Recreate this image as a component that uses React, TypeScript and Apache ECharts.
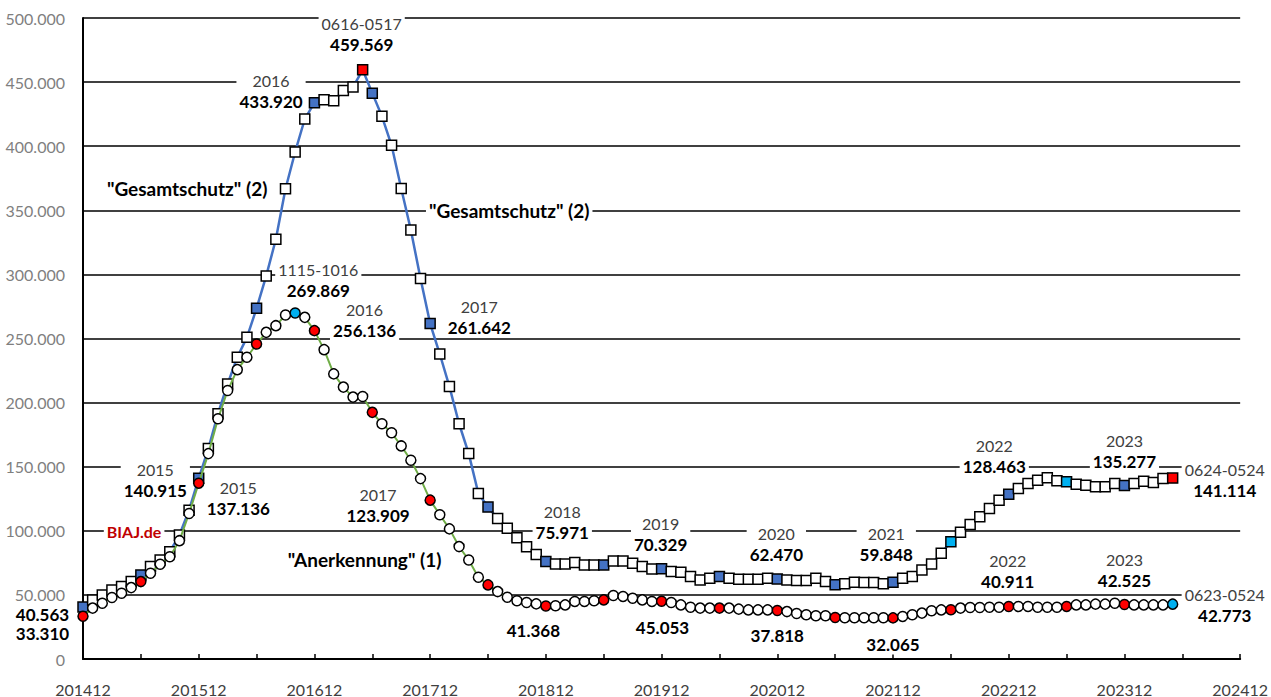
import React, { useEffect, useRef } from "react";
import * as echarts from "echarts";

// ---- categories (months 201412 .. 202412) ----
const START_YEAR = 2014;
const MONTHS: string[] = ["201412"];
for (let y = START_YEAR + 1; y <= 2024; y++) {
  for (let m = 1; m <= 12; m++) MONTHS.push(`${y}${m < 10 ? "0" + m : m}`);
}

// ---- series values ----
const gesamtschutz: number[] = [
  40563, 46100, 50000, 53900, 56500, 60400, 65600, 72100, 77200, 83700, 96700, 116100,
  140915, 164100, 191300, 214600, 235400, 250900, 273500, 298800, 327400, 366800, 395500, 421200,
  433920, 436200, 435400, 443500, 446100, 459569, 441400, 423300, 400700, 367000, 334600, 296800,
  261642, 237900, 212500, 183500, 160200, 129100, 118500, 109600, 101900, 94600, 87600, 81600,
  75971, 74100, 74100, 75200, 73300, 73300, 73300, 76400, 76400, 74600, 72100, 70200,
  70329, 68200, 67700, 64300, 61700, 63000, 64300, 63000, 62200, 62200, 62200, 63000,
  62470, 61700, 61200, 61200, 63000, 60400, 58000, 58600, 59900, 59600, 59600, 58600,
  59848, 63000, 64300, 69500, 74100, 82400, 91500, 98800, 105000, 110900, 117400, 123900,
  128463, 133000, 136900, 139400, 141300, 139000, 138200, 136300, 135500, 134300, 134300, 136900,
  135277, 136900, 138700, 137600, 140700, 141114,
];

const anerkennung: number[] = [
  33310, 39700, 43500, 48000, 51300, 55700, 60400, 66900, 73900, 79800, 92300, 113500,
  137136, 160200, 187400, 209400, 225700, 235400, 245700, 254800, 260000, 268300, 269869, 266500,
  256136, 241300, 222400, 212100, 204300, 204800, 192400, 183500, 176500, 166200, 155000, 140700,
  123909, 112500, 101500, 87700, 77200, 63800, 57800, 52600, 48200, 45400, 44100, 43000,
  41368, 41500, 42200, 44900, 44900, 45400, 46100, 49500, 48800, 47400, 46100, 44900,
  45053, 44100, 42200, 40400, 39700, 39700, 39700, 39700, 38900, 38300, 38300, 38300,
  37818, 37000, 35500, 34500, 33700, 33700, 32400, 32200, 32200, 32200, 32200, 32200,
  32065, 33200, 34500, 35800, 37600, 38300, 38400, 39700, 40200, 40200, 40400, 40400,
  40911, 41000, 41000, 40400, 40400, 40400, 41000, 42200, 42200, 42800, 42800, 43500,
  42525, 42200, 42200, 42200, 42200, 42773,
];

// ---- highlighted markers (indices into the monthly series) ----
const gesamtDarkBlueIdx = [0, 6, 12, 18, 24, 30, 36, 42, 48, 54, 60, 66, 72, 78, 84, 96, 108];
const gesamtLightBlueIdx = [90, 102];
const gesamtRedIdx = [29, 113];
const anerkRedIdx = [0, 6, 12, 18, 24, 30, 36, 42, 48, 54, 60, 66, 72, 78, 84, 90, 96, 102, 108];
const anerkLightBlueIdx = [22, 113];

// ---- annotations: x (month index), y (value), texts ----
type Note = { x: number; y: number; reg?: string; bold?: string; red?: string; title?: string; stack?: string };
const notes: Note[] = [
  { x: 28.9, y: 487500, reg: "0616-0517", bold: "459.569" },
  { x: 19.5, y: 442800, reg: "2016", bold: "433.920" },
  { x: 10.8, y: 367000, title: '"Gesamtschutz" (2)' },
  { x: 44.2, y: 349900, title: '"Gesamtschutz" (2)' },
  { x: 24.4, y: 295900, reg: "1115-1016", bold: "269.869" },
  { x: 29.2, y: 264400, reg: "2016", bold: "256.136" },
  { x: 41.1, y: 266700, reg: "2017", bold: "261.642" },
  { x: 7.5, y: 140000, reg: "2015", bold: "140.915" },
  { x: 16.1, y: 125200, reg: "2015", bold: "137.136" },
  { x: 5.3, y: 99500, red: "BIAJ.de" },
  { x: 30.6, y: 120500, reg: "2017", bold: "123.909" },
  { x: 29.2, y: 77800, title: '"Anerkennung" (1)' },
  { x: -4.2, y: 27200, stack: "40.563\n33.310" },
  { x: 49.7, y: 106500, reg: "2018", bold: "75.971" },
  { x: 59.9, y: 97200, reg: "2019", bold: "70.329" },
  { x: 71.9, y: 89400, reg: "2020", bold: "62.470" },
  { x: 83.3, y: 89400, reg: "2021", bold: "59.848" },
  { x: 94.5, y: 158600, reg: "2022", bold: "128.463" },
  { x: 108.0, y: 162100, reg: "2023", bold: "135.277" },
  { x: 118.4, y: 140000, reg: "0624-0524", bold: "141.114" },
  { x: 95.9, y: 68400, reg: "2022", bold: "40.911" },
  { x: 108.0, y: 69600, reg: "2023", bold: "42.525" },
  { x: 118.4, y: 42000, reg: "0623-0524", bold: "42.773" },
  { x: 46.7, y: 22000, bold: "41.368" },
  { x: 60.1, y: 24900, bold: "45.053" },
  { x: 72.0, y: 18100, bold: "37.818" },
  { x: 84.0, y: 11700, bold: "32.065" },
];

const FONT = "Lato, 'Noto Sans', sans-serif";
const COL_DARK_BLUE = "#4472C4";
const COL_LIGHT_BLUE = "#00B0F0";
const COL_RED = "#FF0000";

function fmt(v: number): string {
  const s = String(Math.round(v));
  return s.replace(/\B(?=(\d{3})+(?!\d))/g, ".");
}

export default function App() {
  const ref = useRef<HTMLDivElement>(null);
  useEffect(() => {
    if (!ref.current) return;
    const chart = echarts.init(ref.current, undefined, { renderer: "svg" });

    const gData = gesamtschutz.map((v, i) => {
      let c = "#fff";
      if (gesamtDarkBlueIdx.includes(i)) c = COL_DARK_BLUE;
      if (gesamtLightBlueIdx.includes(i)) c = COL_LIGHT_BLUE;
      if (gesamtRedIdx.includes(i)) c = COL_RED;
      return { value: v, itemStyle: { color: c } };
    });
    const aData = anerkennung.map((v, i) => {
      let c = "#fff";
      if (anerkRedIdx.includes(i)) c = COL_RED;
      if (anerkLightBlueIdx.includes(i)) c = COL_LIGHT_BLUE;
      return { value: v, itemStyle: { color: c } };
    });

    chart.setOption({
      animation: false,
      backgroundColor: "#fff",
      grid: { left: 83, right: 30, top: 18, bottom: 36, containLabel: false },
      xAxis: {
        type: "category",
        data: MONTHS,
        boundaryGap: false,
        axisLine: { lineStyle: { color: "#000", width: 2 } },
        axisTick: {
          inside: true,
          length: 5,
          interval: (i: number) => i % 6 === 0,
          lineStyle: { color: "#000", width: 1.5 },
        },
        axisLabel: {
          interval: (i: number) => i % 12 === 0,
          margin: 22,
          color: "#404040",
          fontFamily: FONT,
          fontSize: 16,
        },
        splitLine: { show: false },
      },
      yAxis: {
        type: "value",
        min: 0,
        max: 500000,
        interval: 50000,
        axisLine: { show: true, lineStyle: { color: "#000", width: 2 } },
        axisTick: { show: false },
        axisLabel: {
          formatter: (v: number) => fmt(v),
          color: "#7f7f7f",
          fontFamily: FONT,
          fontSize: 16,
          margin: 18,
        },
        splitLine: { lineStyle: { color: "#000", width: 1.5 } },
      },
      series: [
        {
          name: "Gesamtschutz",
          type: "line",
          data: gData,
          symbol: "rect",
          symbolSize: 10,
          showAllSymbol: true,
          z: 3,
          lineStyle: { color: COL_DARK_BLUE, width: 2.5 },
          itemStyle: { borderColor: "#000", borderWidth: 1.5 },
        },
        {
          name: "Anerkennung",
          type: "line",
          data: aData,
          symbol: "circle",
          symbolSize: 10,
          showAllSymbol: true,
          z: 4,
          lineStyle: { color: "#70AD47", width: 2 },
          itemStyle: { borderColor: "#000", borderWidth: 1.5 },
        },
      ],
    });

    const p0 = chart.convertToPixel({ xAxisIndex: 0, yAxisIndex: 0 }, [0, 0]) as number[];
    const p1 = chart.convertToPixel({ xAxisIndex: 0, yAxisIndex: 0 }, [120, 500000]) as number[];
    const toPx = (x: number, y: number) => [
      p0[0] + ((p1[0] - p0[0]) * x) / 120,
      p0[1] + ((p1[1] - p0[1]) * y) / 500000,
    ];

    const rich = {
      r: { fontFamily: FONT, fontSize: 16, fill: "#404040", lineHeight: 21, align: "center" },
      b: { fontFamily: FONT, fontSize: 17, fontWeight: "bold", fill: "#000", lineHeight: 21, align: "center" },
      t: { fontFamily: FONT, fontSize: 19, fontWeight: "bold", fill: "#000", lineHeight: 22, align: "center" },
      br: { fontFamily: FONT, fontSize: 17, fontWeight: "bold", fill: "#000", lineHeight: 19, align: "right" },
      red: { fontFamily: FONT, fontSize: 16, fontWeight: "bold", fill: "#C00000", lineHeight: 21, align: "center" },
    };

    const elements = notes.map((n) => {
      const [px, py] = toPx(n.x, n.y);
      let text = "";
      if (n.red) text = `{red|${n.red}}`;
      else if (n.title) text = `{t|${n.title}}`;
      else if (n.stack) text = n.stack.split("\n").map((s) => `{br|${s}}`).join("\n");
      else {
        const parts: string[] = [];
        if (n.reg) parts.push(`{r|${n.reg}}`);
        if (n.bold) parts.push(`{b|${n.bold}}`);
        text = parts.join("\n");
      }
      return {
        type: "text",
        x: px,
        y: py,
        z: 2,
        style: {
          text,
          rich,
          align: "center",
          verticalAlign: "middle",
          backgroundColor: "#fff",
          padding: [0, 3],
        },
      };
    });

    chart.setOption({ graphic: { elements } });

    return () => chart.dispose();
  }, []);

  return (
    <div
      ref={ref}
      style={{ position: "absolute", left: 0, top: 0, width: 1271, height: 697 }}
    />
  );
}
